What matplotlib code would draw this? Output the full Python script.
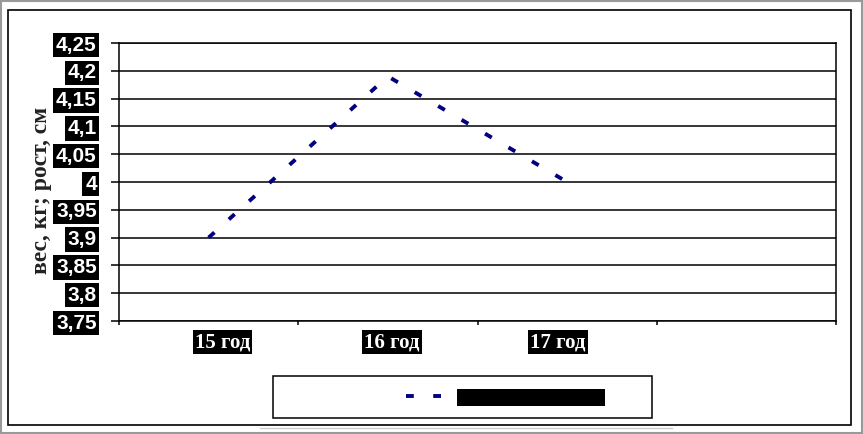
import matplotlib
matplotlib.use('Agg')
import matplotlib.pyplot as plt
import matplotlib.transforms as mtransforms
from matplotlib.patches import Rectangle
from matplotlib.lines import Line2D

# данные
categories = ['15 год', '16 год', '17 год', '']
values = [3.9, 4.19, 4.0]
y_ticks = [3.75, 3.8, 3.85, 3.9, 3.95, 4.0, 4.05, 4.1, 4.15, 4.2, 4.25]
y_labels = ['3,75', '3,8', '3,85', '3,9', '3,95', '4', '4,05', '4,1', '4,15', '4,2', '4,25']
y_title = 'вес, кг; рост, см'
legend_label = 'вес, кг'

line_color = '#000080'

fig = plt.figure(figsize=(8.63, 4.34), dpi=100)
ax = fig.add_axes([119 / 863, 1 - 321 / 434, (836 - 119) / 863, (321 - 43) / 434])

x = list(range(len(values)))
ax.plot(x, values, color=line_color, lw=2.8, dashes=[2.0, 5.0], label=legend_label)

ax.set_xlim(-0.5, len(categories) - 0.5)
ax.set_ylim(y_ticks[0], y_ticks[-1])

# сетка
ax.set_yticks(y_ticks)
ax.set_yticklabels(y_labels)
ax.grid(axis='y', color='black', lw=1.1)
ax.set_axisbelow(True)
for s in ax.spines.values():
    s.set_color('black')
    s.set_linewidth(1.1)

ax.tick_params(axis='y', length=6, width=1.1, pad=10)
for t in ax.get_yticklabels():
    t.set_family(['Liberation Sans Narrow', 'Liberation Sans', 'DejaVu Sans'])
    t.set_fontweight('bold')
    t.set_fontsize(15)
    t.set_color('white')
    t.set_bbox(dict(facecolor='black', edgecolor='none', pad=1.9))

ax.set_xticks(range(len(categories)))
ax.set_xticklabels(categories)
ax.set_xticks([i - 0.5 for i in range(len(categories) + 1)], minor=True)
ax.tick_params(axis='x', which='major', length=0, pad=8)
ax.tick_params(axis='x', which='minor', length=3, width=1.1, direction='out')
# смещения подписей как в оригинале (в пикселях)
x_label_shift = [14, 4, -9, 0]
for t, dx in zip(ax.get_xticklabels(), x_label_shift):
    t.set_family(['Liberation Serif', 'DejaVu Serif'])
    t.set_fontweight('bold')
    t.set_fontsize(15)
    t.set_color('white')
    t.set_transform(t.get_transform() + mtransforms.Affine2D().translate(dx, 0))
    if t.get_text():
        t.set_bbox(dict(facecolor='black', edgecolor='none', pad=1.5))

fig.text(41 / 863, 1 - 190 / 434, y_title, rotation=90, ha='center', va='center',
         family=['Liberation Serif', 'DejaVu Serif'], fontsize=17, fontweight='bold',
         color='#222222')

# рамки
fig.patches.append(Rectangle((1 / 863, 1 / 434), 861 / 863, 432 / 434, transform=fig.transFigure,
                             fill=False, edgecolor='#999999', lw=1.5))
fig.patches.append(Rectangle((8 / 863, 1 - 425 / 434), 843 / 863, 415 / 434, transform=fig.transFigure,
                             fill=False, edgecolor='black', lw=1.2))

# легенда
fig.lines.append(Line2D([260 / 863, 672 / 863], [1 - 428 / 434] * 2, transform=fig.transFigure,
                        color='#cccccc', lw=1))
fig.patches.append(Rectangle((273 / 863, 1 - 418 / 434), 379 / 863, 42 / 434, transform=fig.transFigure,
                             facecolor='white', edgecolor='black', lw=1.1))
leg = fig.legend(loc='center', bbox_to_anchor=(504 / 863, 1 - 397 / 434), frameon=False,
                 handlelength=2.6, handletextpad=0.9,
                 prop={'family': ['Liberation Serif', 'DejaVu Serif'], 'size': 11})
for t in leg.get_texts():
    t.set_text(legend_label + '\u00a0' * 26)
    t.set_color('black')
    t.set_bbox(dict(facecolor='black', edgecolor='none', pad=1.5))

fig.savefig('out.png', dpi=100)
